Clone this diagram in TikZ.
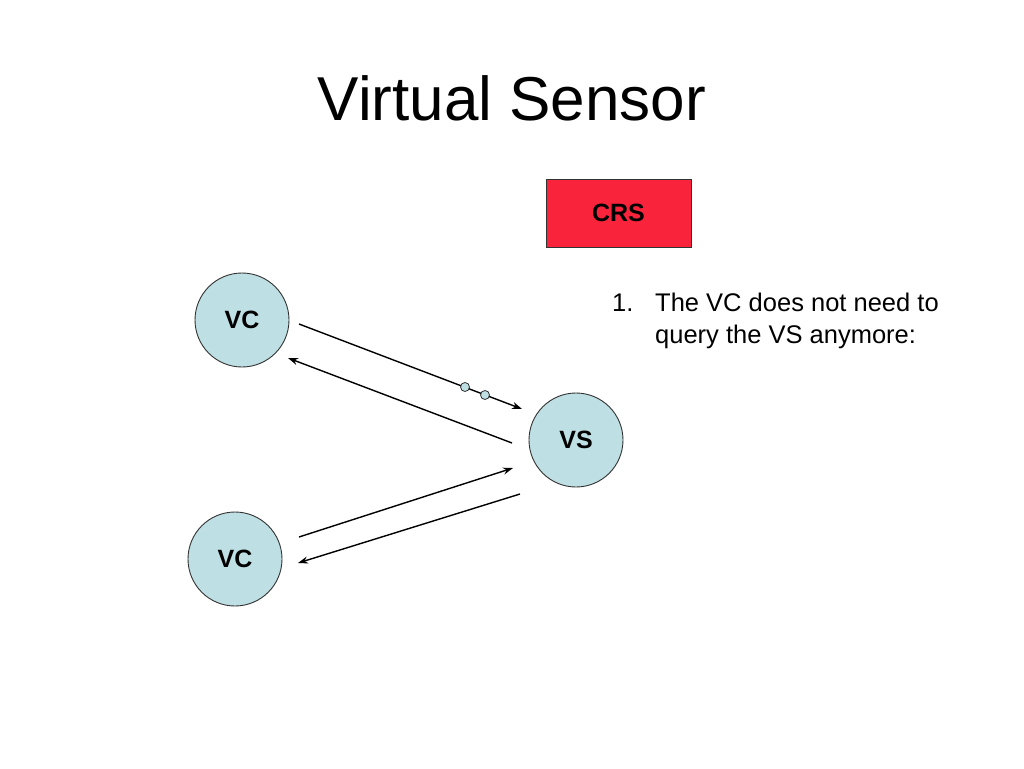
\documentclass[tikz,border=0pt]{standalone}
\usepackage{fontspec}
\setmainfont{Liberation Sans}
\usetikzlibrary{arrows.meta}
\definecolor{circfill}{RGB}{190,224,228}
\definecolor{crsred}{RGB}{250,35,60}
\begin{document}
\begin{tikzpicture}[x=1pt,y=-1pt,
  circ/.style={circle,draw=black!80,line width=0.9pt,fill=circfill,minimum size=94pt,inner sep=0pt,font=\fontsize{25}{28}\selectfont\bfseries},
  dot/.style={circle,draw=black!80,line width=0.8pt,fill=circfill,minimum size=9pt,inner sep=0pt},
  conn/.style={line width=1.4pt,-{Stealth[length=10pt,width=7pt]}}]
\useasboundingbox (0,0) rectangle (1024,768);
\node (title) at (512,98) {\fontsize{62}{70}\selectfont Virtual Sensor};
\node[draw=black!80,line width=0.9pt,fill=crsred,minimum width=145pt,minimum height=68pt,inner sep=0pt,font=\fontsize{25}{28}\selectfont\bfseries] (crs) at (618.5,213) {CRS};
\node[circ] (vc1) at (242,320) {VC};
\node[circ] (vs) at (576,440) {VS};
\node[circ] (vc2) at (235,559) {VC};
\coordinate (a1) at (299,324);
\coordinate (b1) at (522,409);
\coordinate (a2) at (512,443);
\coordinate (b2) at (288,358);
\coordinate (a3) at (299,537);
\coordinate (b3) at (513,468);
\coordinate (a4) at (520,494);
\coordinate (b4) at (298,563);
\draw[conn] (a1) -- (b1);
\draw[conn] (a2) -- (b2);
\draw[conn] (a3) -- (b3);
\draw[conn] (a4) -- (b4);
\node[dot] (d1) at (465,387) {};
\node[dot] (d2) at (485,395) {};
\node[anchor=base west,inner sep=0pt,font=\fontsize{25.5}{32}\selectfont] (t1) at (612,311) {1.};
\node[anchor=base west,inner sep=0pt,font=\fontsize{25.5}{32}\selectfont] (t2) at (655,311) {The VC does not need to};
\node[anchor=base west,inner sep=0pt,font=\fontsize{25.5}{32}\selectfont] (t3) at (655,343) {query the VS anymore:};
\end{tikzpicture}
\end{document}
